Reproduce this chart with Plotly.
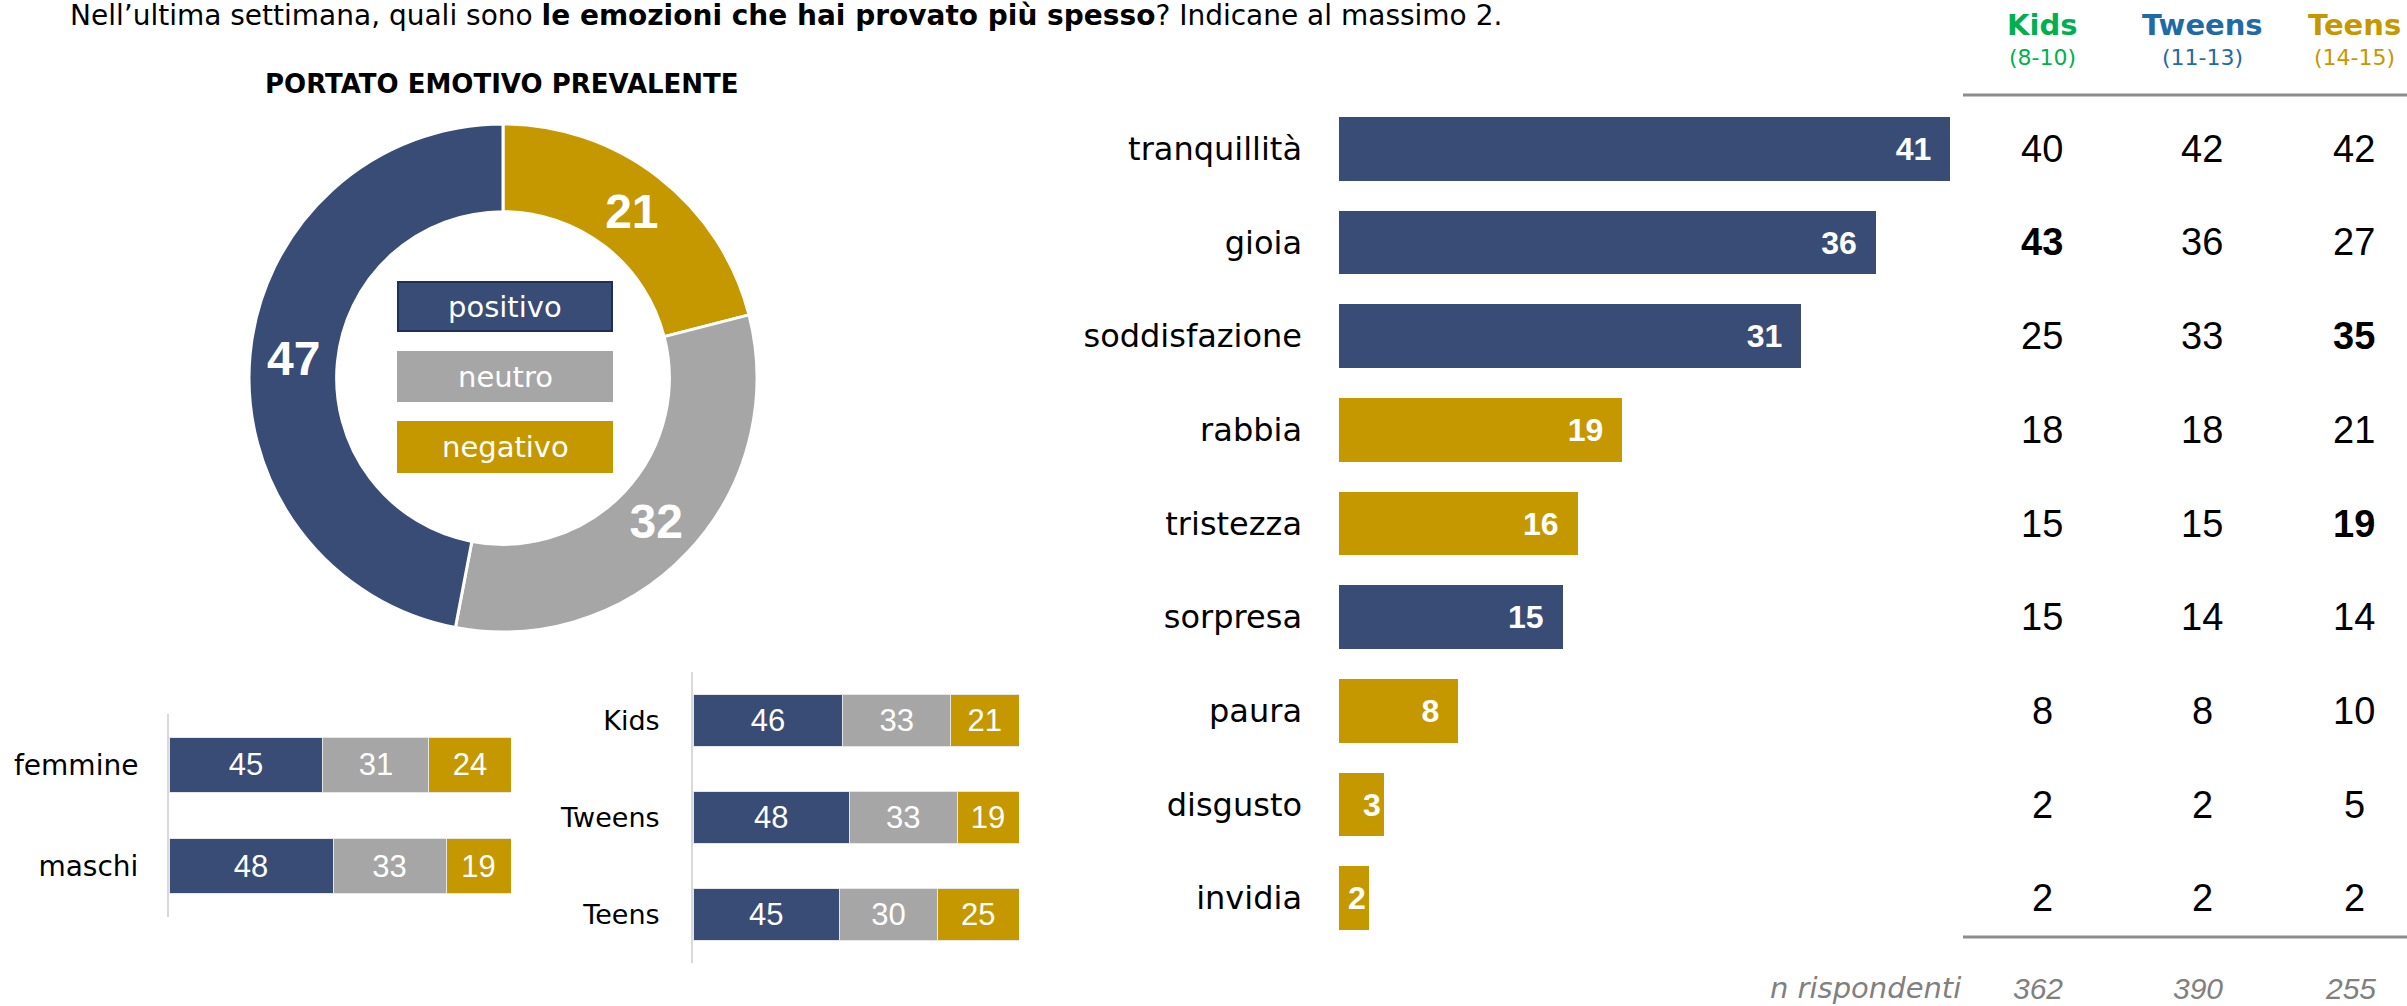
import plotly.graph_objects as go

# ---- data -------------------------------------------------------------
question_plain_1 = "Nell’ultima settimana, quali sono "
question_bold = "le emozioni che hai provato più spesso"
question_plain_2 = "? Indicane al massimo 2."
donut_title = "PORTATO EMOTIVO PREVALENTE"

tone_labels = ["negativo", "neutro", "positivo"]
tone_values = [21, 32, 47]

gender_labels = ["femmine", "maschi"]
gender_pos = [45, 48]
gender_neu = [31, 33]
gender_neg = [24, 19]

age_labels = ["Kids", "Tweens", "Teens"]
age_pos = [46, 48, 45]
age_neu = [33, 33, 30]
age_neg = [21, 19, 25]

emotions = ["tranquillità", "gioia", "soddisfazione", "rabbia", "tristezza",
            "sorpresa", "paura", "disgusto", "invidia"]
emotion_total = [41, 36, 31, 19, 16, 15, 8, 3, 2]
emotion_tone = ["positivo", "positivo", "positivo", "negativo", "negativo",
                "positivo", "negativo", "negativo", "negativo"]

group_names = ["Kids", "Tweens", "Teens"]
group_ages = ["(8-10)", "(11-13)", "(14-15)"]
kids_values = [40, 43, 25, 18, 15, 15, 8, 2, 2]
tweens_values = [42, 36, 33, 18, 15, 14, 8, 2, 2]
teens_values = [42, 27, 35, 21, 19, 14, 10, 5, 2]
highlighted_cells = [("gioia", "Kids"), ("soddisfazione", "Teens"), ("tristezza", "Teens")]
respondents_label = "n rispondenti"
respondents = [362, 390, 255]

# ---- style ------------------------------------------------------------
W, H = 2407, 1006
NAVY = "#384C75"
GREY = "#A6A6A6"
GOLD = "#C59800"
tone_colors = {"positivo": NAVY, "neutro": GREY, "negativo": GOLD}
group_colors = ["#00B050", "#1F6BA5", "#C59800"]
TEXT_FONT = "DejaVu Sans"
NUM_FONT = "Liberation Sans"


def px(x):
    return x / W


def py(y):
    return 1 - y / H


fig = go.Figure()

# donut of the overall emotional tone
fig.add_trace(go.Pie(
    labels=tone_labels, values=tone_values, sort=False, direction="clockwise",
    rotation=0, hole=0.655,
    marker=dict(colors=[tone_colors[t] for t in tone_labels],
                line=dict(color="white", width=3)),
    textinfo="value", textposition="inside", insidetextorientation="horizontal",
    textfont=dict(family=NUM_FONT, size=48, color="white", weight="bold"),
    domain=dict(x=[px(249), px(757)], y=[py(632), py(124)]),
    showlegend=False, hoverinfo="label+value",
))

# stacked tone bars by gender and by age group
for axis_id, cats, series in [
    ("2", gender_labels, [gender_pos, gender_neu, gender_neg]),
    ("3", age_labels, [age_pos, age_neu, age_neg]),
]:
    for tone, vals in zip(["positivo", "neutro", "negativo"], series):
        fig.add_trace(go.Bar(
            x=vals, y=cats, orientation="h", xaxis="x" + axis_id, yaxis="y" + axis_id,
            marker=dict(color=tone_colors[tone], line=dict(color="#E6E6E6", width=1)),
            width=0.54, text=vals, textposition="inside", insidetextanchor="middle",
            textangle=0, constraintext="none",
            textfont=dict(family=NUM_FONT, size=31, color="white"),
            showlegend=False, name=tone,
        ))

# ranked emotions
label_templates = ["%{x}\u2002" if v >= 5 else "%{x}" for v in emotion_total]
fig.add_trace(go.Bar(
    x=emotion_total, y=emotions, orientation="h", xaxis="x", yaxis="y",
    marker=dict(color=[tone_colors[t] for t in emotion_tone], line=dict(width=0)),
    width=0.68, texttemplate=label_templates, textposition="inside",
    insidetextanchor="end", textangle=0, constraintext="none",
    textfont=dict(family=NUM_FONT, size=32, color="white", weight="bold"),
    showlegend=False, name="totale",
))

hidden_x = dict(visible=False, showgrid=False, zeroline=False, fixedrange=True)
fig.update_layout(
    width=W, height=H, margin=dict(l=0, r=0, t=0, b=0),
    paper_bgcolor="white", plot_bgcolor="white", barmode="stack",
    font=dict(family=TEXT_FONT, color="black"),
    xaxis=dict(domain=[px(1339), px(2010)], range=[0, 45], **hidden_x),
    yaxis=dict(domain=[py(945), py(102)], type="category", range=[8.5, -0.5],
               showgrid=False, zeroline=False, showline=False, ticks="",
               ticklabelstandoff=36, tickfont=dict(family=TEXT_FONT, size=32, color="black")),
    xaxis2=dict(domain=[px(169), px(511)], range=[0, 100], anchor="y2", **hidden_x),
    yaxis2=dict(domain=[py(917), py(714)], type="category", range=[1.5, -0.5], anchor="x2",
                showgrid=False, zeroline=False, showline=True, linecolor="#D9D9D9",
                linewidth=2, ticks="", ticklabelstandoff=23,
                tickfont=dict(family=TEXT_FONT, size=28, color="black")),
    xaxis3=dict(domain=[px(693), px(1019)], range=[0, 100], anchor="y3", **hidden_x),
    yaxis3=dict(domain=[py(963), py(672)], type="category", range=[2.5, -0.5], anchor="x3",
                showgrid=False, zeroline=False, showline=True, linecolor="#D9D9D9",
                linewidth=2, ticks="", ticklabelstandoff=26,
                tickfont=dict(family=TEXT_FONT, size=27, color="black")),
)

annotations = []
shapes = []

# question
annotations.append(dict(
    text=question_plain_1 + "<b>" + question_bold + "</b>" + question_plain_2,
    x=px(68), y=py(15), xref="paper", yref="paper", xanchor="left", yanchor="middle",
    showarrow=False, font=dict(family=TEXT_FONT, size=28, color="black"),
))
annotations.append(dict(
    text="<b>" + donut_title + "</b>", x=px(502), y=py(84), xref="paper", yref="paper",
    xanchor="center", yanchor="middle", showarrow=False,
    font=dict(family=TEXT_FONT, size=26, color="black"),
))

# key inside the donut hole
key_rows = [("positivo", 282, 331), ("neutro", 352, 401), ("negativo", 422, 472)]
for name, y0, y1 in key_rows:
    shapes.append(dict(
        type="rect", xref="paper", yref="paper", x0=px(398), x1=px(612), y0=py(y1), y1=py(y0),
        fillcolor=tone_colors[name],
        line=dict(color="#1F2F55" if name == "positivo" else tone_colors[name], width=2),
    ))
    annotations.append(dict(
        text=name, x=px(505), y=py((y0 + y1) / 2), xref="paper", yref="paper",
        xanchor="center", yanchor="middle", showarrow=False,
        font=dict(family=TEXT_FONT, size=29, color="white"),
    ))

# table of the three age groups
col_x = [2042, 2202, 2354]
for gi, (gname, gage) in enumerate(zip(group_names, group_ages)):
    annotations.append(dict(
        text="<b>" + gname + "</b>", x=px(col_x[gi]), y=py(25), xref="paper", yref="paper",
        xanchor="center", yanchor="middle", showarrow=False,
        font=dict(family=TEXT_FONT, size=29, color=group_colors[gi]),
    ))
    annotations.append(dict(
        text=gage, x=px(col_x[gi]), y=py(58), xref="paper", yref="paper",
        xanchor="center", yanchor="middle", showarrow=False,
        font=dict(family=TEXT_FONT, size=22, color=group_colors[gi]),
    ))

for gi, (gname, col) in enumerate(zip(group_names, [kids_values, tweens_values, teens_values])):
    for emo, val in zip(emotions, col):
        label = f"<b>{val}</b>" if (emo, gname) in highlighted_cells else str(val)
        annotations.append(dict(
            text=label, x=px(col_x[gi]), y=emo, xref="paper", yref="y",
            xanchor="center", yanchor="middle", showarrow=False,
            font=dict(family=NUM_FONT, size=38, color="black"),
        ))

annotations.append(dict(
    text=respondents_label, x=px(1963), y=py(988), xref="paper", yref="paper",
    xanchor="right", yanchor="middle", showarrow=False,
    font=dict(family=TEXT_FONT, size=29, color="#808080", style="italic"),
))
for gi, n in enumerate(respondents):
    annotations.append(dict(
        text=str(n), x=px(col_x[gi] - 4), y=py(988), xref="paper", yref="paper",
        xanchor="center", yanchor="middle", showarrow=False,
        font=dict(family=NUM_FONT, size=30, color="#808080", style="italic"),
    ))

for yline in (95, 937):
    shapes.append(dict(
        type="line", xref="paper", yref="paper", x0=px(1963), x1=1, y0=py(yline), y1=py(yline),
        line=dict(color="#8C8C8C", width=3),
    ))

fig.update_layout(annotations=annotations, shapes=shapes)

fig.write_html("out.html", config={"displayModeBar": False})
